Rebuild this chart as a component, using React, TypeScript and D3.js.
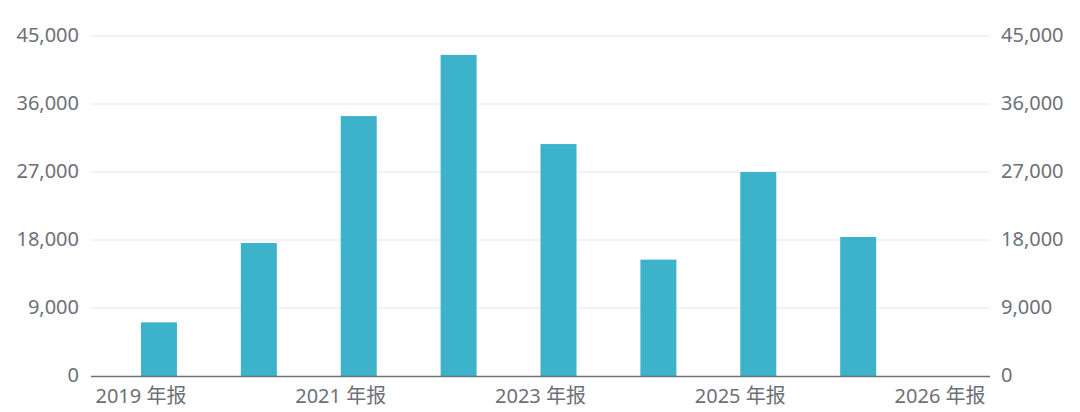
import { useEffect, useRef } from 'react';
import * as d3 from 'd3';

const categories = [
  '2019 年报',
  '2020 年报',
  '2021 年报',
  '2022 年报',
  '2023 年报',
  '2024 年报',
  '2025 年报',
  '2026 中报',
  '2026 年报',
];
// only every other category label is shown on the axis
const shownLabels = ['2019 年报', '2021 年报', '2023 年报', '2025 年报', '2026 年报'];
const values = [7100, 17600, 34400, 42500, 30700, 15400, 27000, 18400, null];
const yTicks = [0, 9000, 18000, 27000, 36000, 45000];

export default function App() {
  const svgRef = useRef<SVGSVGElement>(null);

  useEffect(() => {
    if (!svgRef.current) return;
    d3.select(svgRef.current).selectAll('*').remove();

    const width = 1080;
    const height = 412;
    const margin = { top: 36, right: 90, bottom: 36, left: 91 };
    const font = '"Noto Sans", "Noto Sans CJK SC", sans-serif';

    const svg = d3.select(svgRef.current).attr('width', width).attr('height', height);

    const x = d3
      .scaleBand()
      .domain(categories)
      .range([margin.left, width - margin.right])
      .padding(0);

    // bars sit in the right half of each band (left slot of the group is empty)
    const inner = d3
      .scaleBand()
      .domain(['prev', 'cur'])
      .range([x.bandwidth() / 2 - 36, x.bandwidth() / 2 + 36])
      .padding(0);

    const y = d3
      .scaleLinear()
      .domain([0, 45000])
      .range([height - margin.bottom, margin.top]);

    // Grid lines
    svg
      .append('g')
      .selectAll('line')
      .data(yTicks.filter((t) => t > 0))
      .enter()
      .append('line')
      .attr('x1', margin.left)
      .attr('x2', width - margin.right)
      .attr('y1', (d) => y(d))
      .attr('y2', (d) => y(d))
      .attr('stroke', '#E0E6F1')
      .attr('stroke-width', 1);

    // Bars
    svg
      .append('g')
      .selectAll('rect')
      .data(categories.map((c, i) => ({ c, v: values[i] })).filter((d) => d.v != null))
      .enter()
      .append('rect')
      .attr('x', (d) => x(d.c)! + inner('cur')!)
      .attr('y', (d) => y(d.v as number))
      .attr('width', inner.bandwidth())
      .attr('height', (d) => y(0) - y(d.v as number))
      .attr('fill', '#3DB3CB');

    // X axis line
    svg
      .append('line')
      .attr('x1', margin.left)
      .attr('x2', width - margin.right)
      .attr('y1', y(0) + 0.5)
      .attr('y2', y(0) + 0.5)
      .attr('stroke', '#6E7079')
      .attr('stroke-width', 1.5);

    // X labels
    svg
      .append('g')
      .selectAll('text')
      .data(shownLabels)
      .enter()
      .append('text')
      .attr('x', (d) => x(d)! + x.bandwidth() / 2)
      .attr('y', 403)
      .attr('text-anchor', 'middle')
      .attr('fill', '#6E7079')
      .attr('font-size', '20px')
      .attr('font-family', font)
      .text((d) => d);

    // Left y labels
    svg
      .append('g')
      .selectAll('text')
      .data(yTicks)
      .enter()
      .append('text')
      .attr('x', 79)
      .attr('y', (d) => y(d) - 1)
      .attr('dy', '0.35em')
      .attr('text-anchor', 'end')
      .attr('fill', '#6E7079')
      .attr('font-size', '20px')
      .attr('font-family', font)
      .text((d) => d3.format(',')(d));

    // Right y labels
    svg
      .append('g')
      .selectAll('text')
      .data(yTicks)
      .enter()
      .append('text')
      .attr('x', 1001)
      .attr('y', (d) => y(d) - 1)
      .attr('dy', '0.35em')
      .attr('text-anchor', 'start')
      .attr('fill', '#6E7079')
      .attr('font-size', '20px')
      .attr('font-family', font)
      .text((d) => d3.format(',')(d));
  }, []);

  return (
    <svg
      ref={svgRef}
      style={{ position: 'absolute', left: 0, top: 0, display: 'block', background: '#fff' }}
    ></svg>
  );
}
